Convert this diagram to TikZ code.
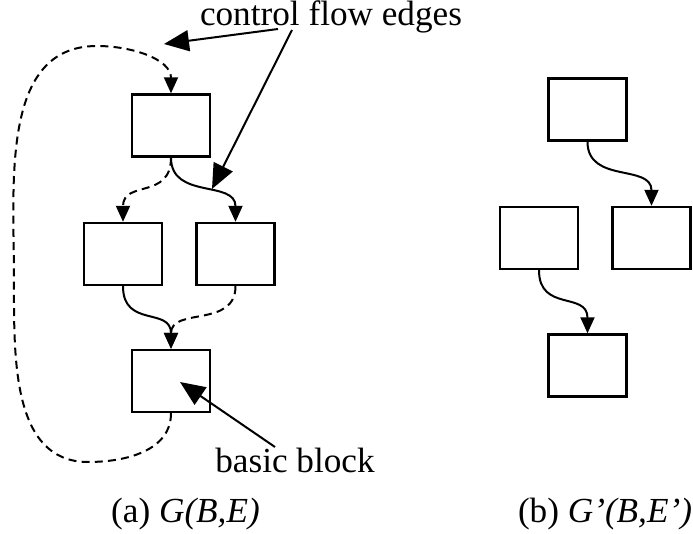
\documentclass[tikz,border=0pt]{standalone}
\usepackage{fontspec}
\setmainfont{Liberation Serif}
\usetikzlibrary{arrows.meta}
\begin{document}
\begin{tikzpicture}[x=0.5pt,y=-0.5pt,
  block/.style={draw,line width=1.2pt,minimum width=39pt,minimum height=31pt,inner sep=0pt},
  flow/.style={line width=1pt,-{Triangle[length=8pt,width=7pt]}},
  flowdash/.style={flow,dash pattern=on 4pt off 2.6pt},
  pointer/.style={line width=1pt,-{Triangle[length=12.5pt,width=10.5pt]}},
  lbl/.style={font=\fontsize{17.6}{21}\selectfont,anchor=base,inner sep=0pt}]
\useasboundingbox (0,0) rectangle (693,534);

% graph (a)
\node[block] (A) at (171,125.5) {};
\node[block] (B) at (123,254) {};
\node[block] (C) at (235.5,254) {};
\node[block] (D) at (171,381) {};

\draw[flow] (A.south) .. controls +(0,42) and +(0,-42) .. (C.north);
\draw[flowdash] (A.south) .. controls +(0,42) and +(0,-42) .. (B.north);
\draw[flow] (B.south) .. controls +(0,42) and +(0,-42) .. (D.north);
\draw[flowdash] (C.south) .. controls +(0,42) and +(0,-42) .. (D.north);
\draw[flowdash] (D.south) to[out=-90,in=0] (88,462) to[out=180,in=-90] (14,280)
  to[out=90,in=180] (97,46) to[out=0,in=90] (A.north);

% graph (b)
\node[block] (E) at (587.5,109.5) {};
\node[block] (F) at (539,238) {};
\node[block] (G) at (651.5,238) {};
\node[block] (H) at (587.5,365.5) {};

\draw[flow] (E.south) .. controls +(0,42) and +(0,-42) .. (G.north);
\draw[flow] (F.south) .. controls +(0,42) and +(0,-42) .. (H.north);

% labels
\node[lbl] (cfe) at (331,26) {control flow edges};
\coordinate (cfe1) at (278,29);
\coordinate (cfe2) at (292,30);
\coordinate (t1) at (164,44);
\coordinate (t2) at (212,189);
\draw[pointer] (cfe1) -- (t1);
\draw[pointer] (cfe2) -- (t2);

\node[lbl] (bb) at (295,473) {basic block};
\coordinate (bb1) at (275,447);
\coordinate (t3) at (180,382);
\draw[pointer] (bb1) -- (t3);

\node[lbl] (capa) at (185.5,523) {(a) \textit{G(B,E)}};
\node[lbl] (capb) at (605,523) {(b) \textit{G’(B,E’)}};
\end{tikzpicture}
\end{document}
